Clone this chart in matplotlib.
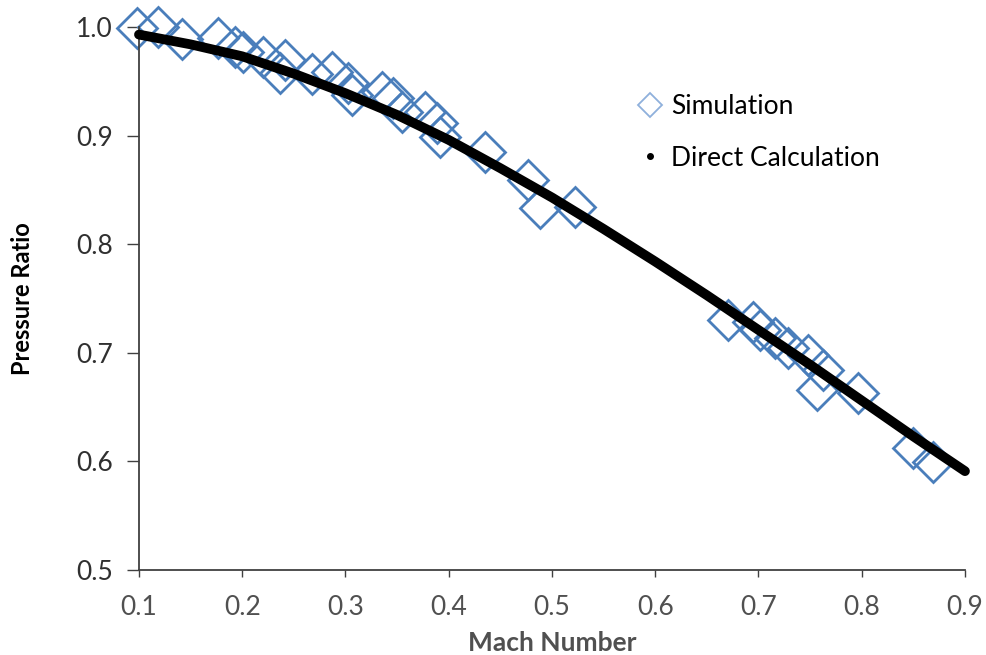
import matplotlib
matplotlib.use('Agg')
import matplotlib.pyplot as plt
from matplotlib.lines import Line2D

plt.rcParams['font.family'] = ['Lato', 'DejaVu Sans']

# simulated pressure ratio vs Mach number
sim_mach = [0.098, 0.118, 0.142, 0.177, 0.193, 0.201, 0.220, 0.237, 0.241, 0.268,
            0.287, 0.302, 0.306, 0.335, 0.346, 0.355, 0.377, 0.389, 0.392, 0.435,
            0.477, 0.488, 0.522, 0.670, 0.695, 0.701, 0.716, 0.729, 0.748, 0.762,
            0.757, 0.796, 0.850, 0.869]
sim_ratio = [0.999, 1.000, 0.989, 0.990, 0.982, 0.977, 0.972, 0.958, 0.970, 0.957,
             0.959, 0.948, 0.937, 0.940, 0.935, 0.922, 0.922, 0.912, 0.899, 0.885,
             0.859, 0.833, 0.834, 0.730, 0.728, 0.721, 0.714, 0.704, 0.698, 0.684,
             0.666, 0.663, 0.612, 0.599]

# direct calculation
calc_mach = [0.10, 0.15, 0.20, 0.25, 0.30, 0.35, 0.40, 0.45, 0.50,
             0.55, 0.60, 0.65, 0.70, 0.75, 0.80, 0.85, 0.90]
calc_ratio = [0.993, 0.984, 0.973, 0.957, 0.939, 0.919, 0.896, 0.870, 0.843,
              0.814, 0.784, 0.753, 0.721, 0.689, 0.656, 0.623, 0.591]

xticks = [0.1, 0.2, 0.3, 0.4, 0.5, 0.6, 0.7, 0.8, 0.9]
yticks = [0.5, 0.6, 0.7, 0.8, 0.9, 1.0]

blue = '#4a7ebb'
axis_gray = '#404040'

fig = plt.figure(figsize=(9.87, 6.55), dpi=100)
ax = fig.add_axes([0.1408, 0.1298, 0.8369, 0.8290])

ax.plot(sim_mach, sim_ratio, ls='none', marker='D', ms=20, mfc='none',
        mec=blue, mew=2, clip_on=False, zorder=2)
ax.plot(calc_mach, calc_ratio, color='black', lw=7, solid_capstyle='round',
        clip_on=False, zorder=3)

ax.set_xlim(0.1, 0.9)
ax.set_ylim(0.5, 1.0)
ax.set_xticks(xticks)
ax.set_yticks(yticks)
ax.set_xticklabels(['%.1f' % v for v in xticks])
ax.set_yticklabels(['%.1f' % v for v in yticks])

for s in ['top', 'right']:
    ax.spines[s].set_visible(False)
for s in ['left', 'bottom']:
    ax.spines[s].set_color(axis_gray)
    ax.spines[s].set_linewidth(1.3)

ax.tick_params(axis='y', direction='out', length=9, width=1, color=axis_gray,
               labelsize=19, labelcolor='#303030', pad=10)
ax.tick_params(axis='x', direction='out', length=5, width=1, color=axis_gray,
               labelsize=19, labelcolor='#505050', pad=13)

ax.set_xlabel('Mach Number', fontsize=19, fontweight='bold', color='#505050',
              labelpad=8)
ax.set_ylabel('Pressure Ratio', fontsize=17, fontweight='bold', color='black',
              labelpad=30)

handles = [
    Line2D([], [], ls='none', marker='D', ms=12, mfc='none', mec='#8fb0dc', mew=1.3),
    Line2D([], [], ls='none', marker='o', ms=4, color='black'),
]
ax.legend(handles, ['Simulation', 'Direct Calculation'], frameon=False,
          fontsize=19, loc='upper left', bbox_to_anchor=(0.58, 0.92),
          handlelength=0.6, handletextpad=0.5, labelspacing=1.0)

fig.savefig('out.png', dpi=100)
